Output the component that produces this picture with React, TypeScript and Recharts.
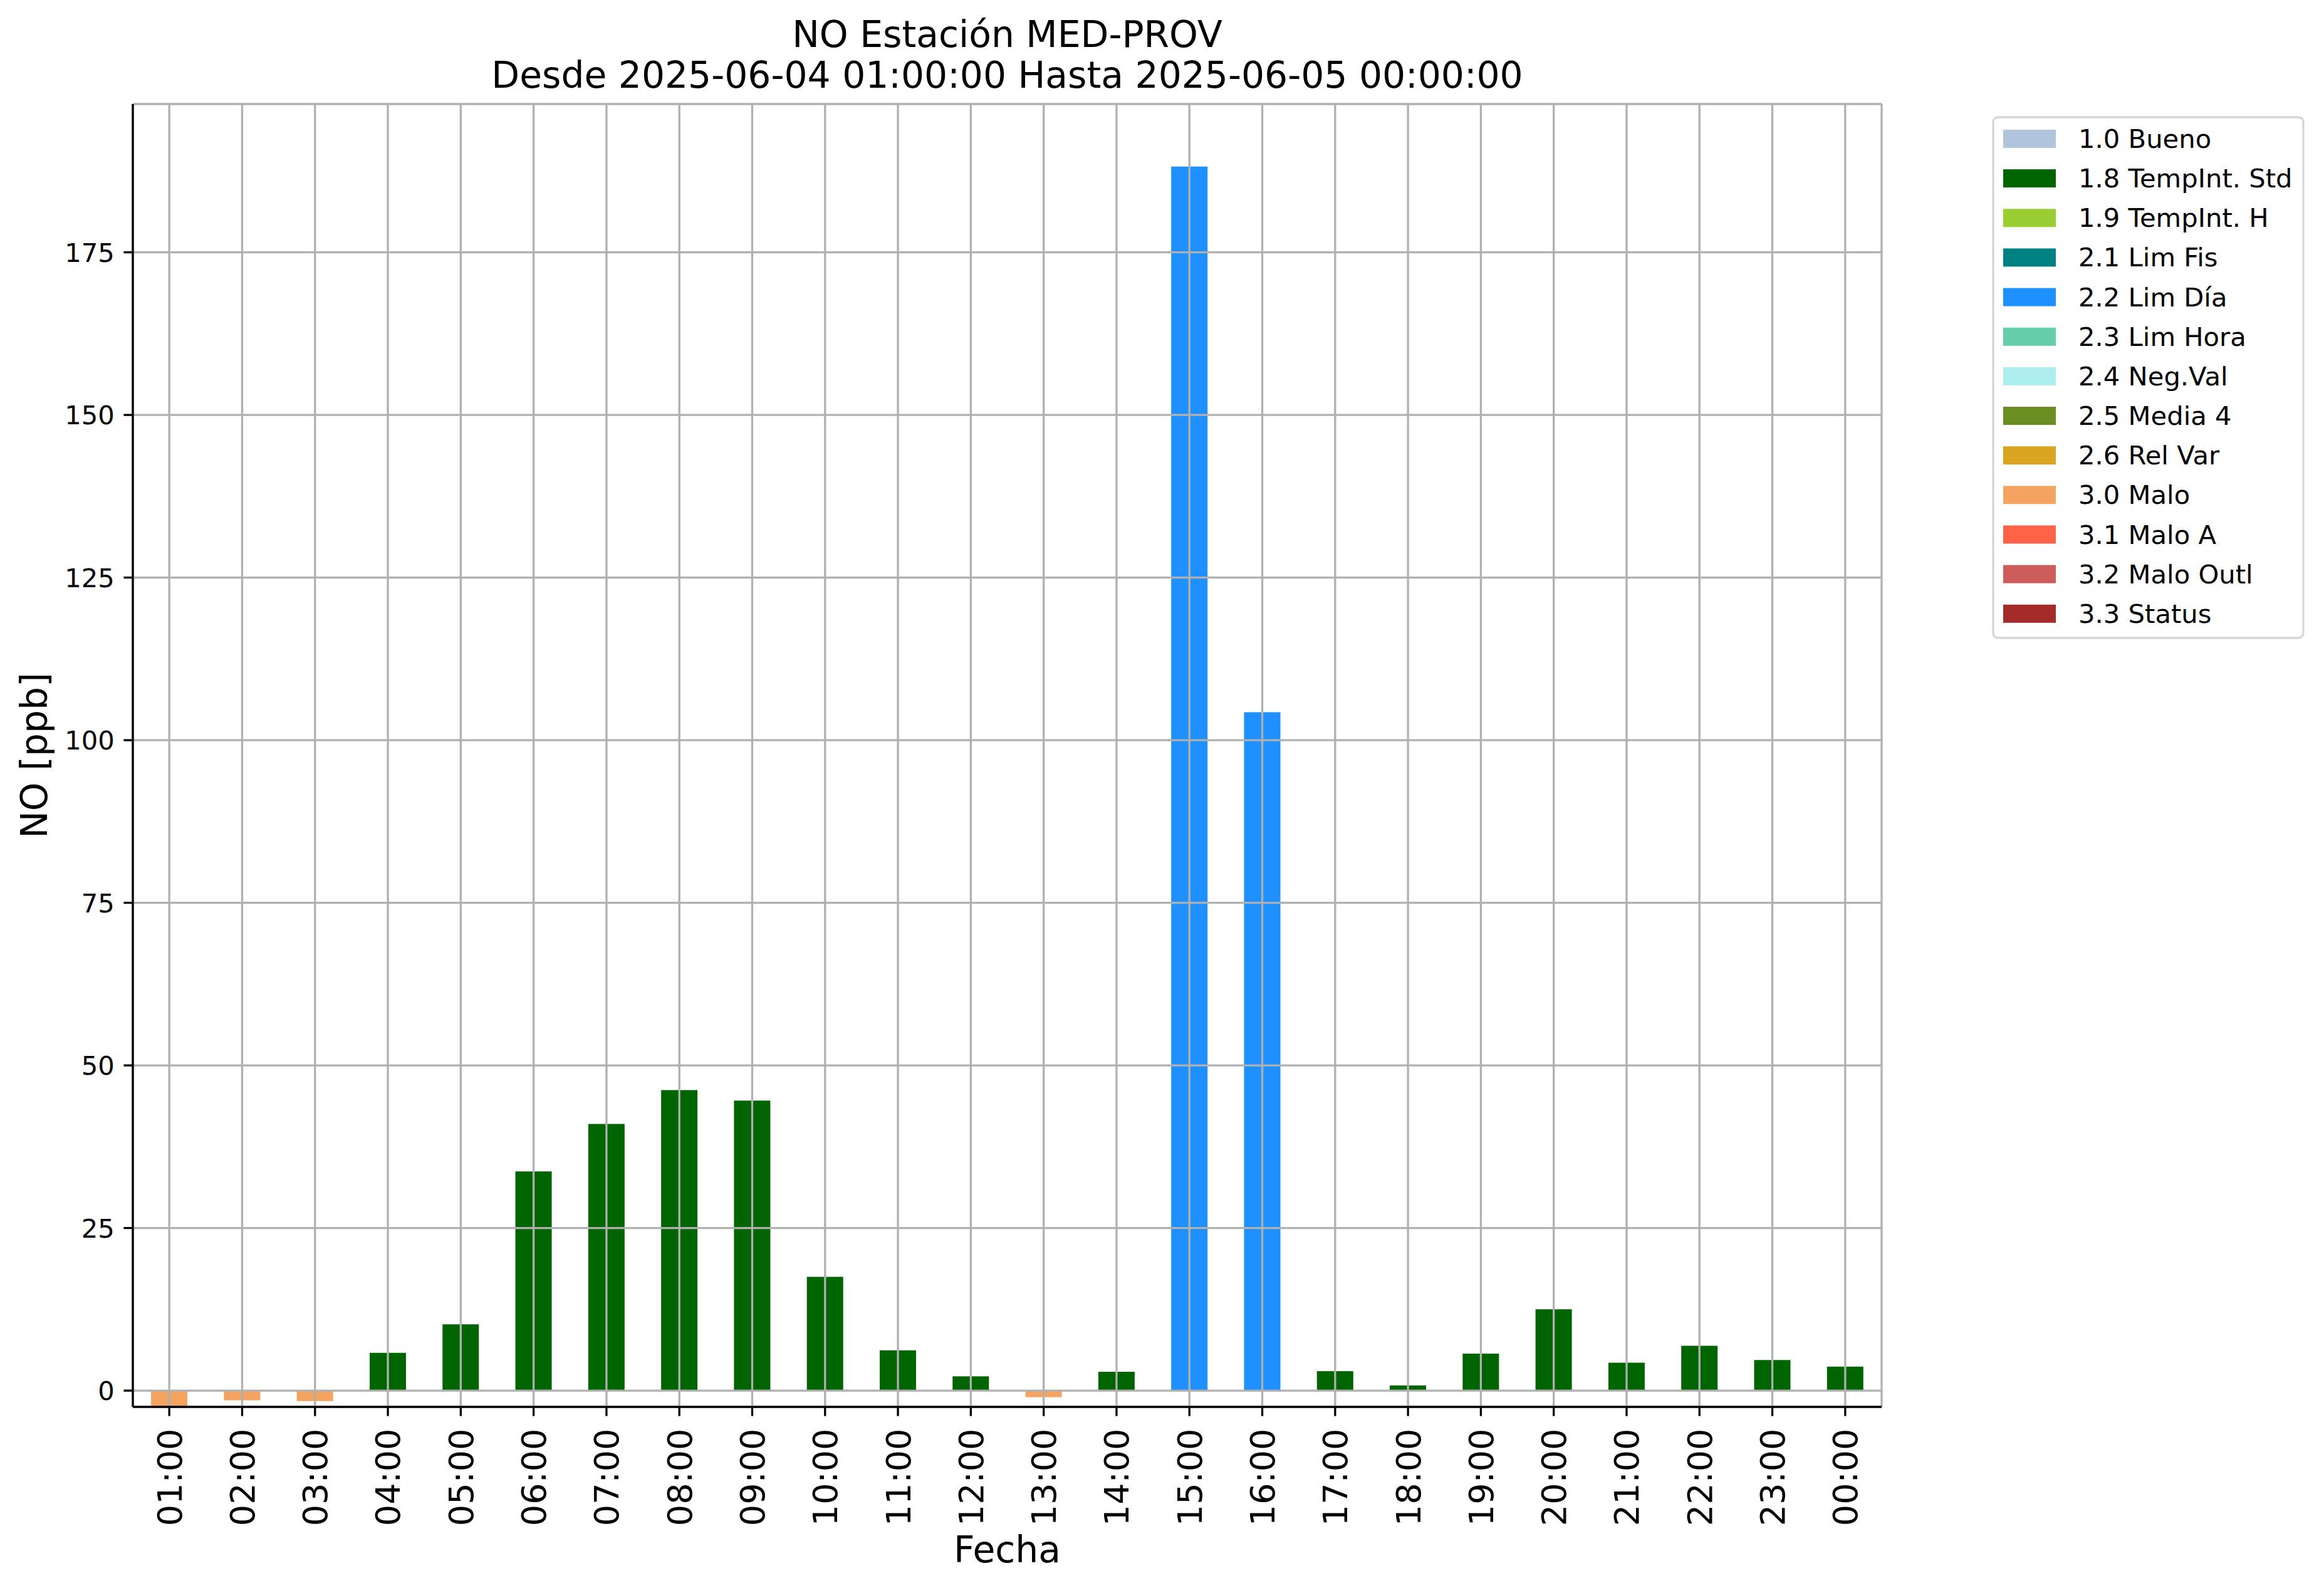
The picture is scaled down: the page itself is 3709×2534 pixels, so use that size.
import { BarChart, Bar, Cell, XAxis, YAxis, CartesianGrid, Customized } from "recharts";

/* ---------- data ---------- */

const hours = [
  "01:00", "02:00", "03:00", "04:00", "05:00", "06:00", "07:00", "08:00",
  "09:00", "10:00", "11:00", "12:00", "13:00", "14:00", "15:00", "16:00",
  "17:00", "18:00", "19:00", "20:00", "21:00", "22:00", "23:00", "00:00",
];

const noValues = [
  -2.5, -1.5, -1.6, 5.8, 10.2, 33.7, 41.0, 46.2,
  44.6, 17.5, 6.2, 2.2, -1.0, 2.9, 188.2, 104.3,
  3.0, 0.8, 5.7, 12.5, 4.3, 6.9, 4.7, 3.7,
];

const flagCodes = [
  "3.0", "3.0", "3.0", "1.8", "1.8", "1.8", "1.8", "1.8",
  "1.8", "1.8", "1.8", "1.8", "3.0", "1.8", "2.2", "2.2",
  "1.8", "1.8", "1.8", "1.8", "1.8", "1.8", "1.8", "1.8",
];

const legendCodes = ["1.0", "1.8", "1.9", "2.1", "2.2", "2.3", "2.4", "2.5", "2.6", "3.0", "3.1", "3.2", "3.3"];
const legendNames = [
  "Bueno", "TempInt. Std", "TempInt. H", "Lim Fis", "Lim Día", "Lim Hora",
  "Neg.Val", "Media 4", "Rel Var", "Malo", "Malo A", "Malo Outl", "Status",
];
const legendColors = [
  "#B0C4DE", "#006400", "#9ACD32", "#008080", "#1E90FF", "#66CDAA",
  "#AFEEEE", "#6B8E23", "#DAA520", "#F4A460", "#FF6347", "#CD5C5C", "#A52A2A",
];

const yTicks = [0, 25, 50, 75, 100, 125, 150, 175];
const yDomain = [-2.5, 197.8];

const data = hours.map((hour, i) => ({ hour, value: noValues[i], flag: flagCodes[i] }));
const colorFor = (code: string) => legendColors[legendCodes.indexOf(code)];

/* ---------- layout ---------- */

const W = 3709;
const H = 2534;
const PLOT_LEFT = 212;
const PLOT_TOP = 166;
const PLOT_RIGHT = 3003;
const PLOT_BOTTOM = 2245;
const FONT = "DejaVu Sans";
const SPINE = { stroke: "#000", strokeWidth: 3.3 };

function HourTick({ x, y, payload }: any) {
  return (
    <text
      x={0}
      y={0}
      transform={`translate(${x},${y}) rotate(-90)`}
      textAnchor="end"
      dy="0.36em"
      fontSize={54}
      fontFamily={FONT}
      fill="#000"
    >
      {payload.value}
    </text>
  );
}

function ValueTick({ x, y, payload }: any) {
  return (
    <text x={x} y={y} textAnchor="end" dy="0.36em" fontSize={41.7} fontFamily={FONT} fill="#000">
      {payload.value}
    </text>
  );
}

function ChartText() {
  const cx = (PLOT_LEFT + PLOT_RIGHT) / 2;
  const cy = (PLOT_TOP + PLOT_BOTTOM) / 2;
  return (
    <g fontFamily={FONT} fill="#000">
      <text x={cx} y={75} textAnchor="middle" fontSize={58.3}>NO Estación MED-PROV</text>
      <text x={cx} y={140} textAnchor="middle" fontSize={58.3}>
        Desde 2025-06-04 01:00:00 Hasta 2025-06-05 00:00:00
      </text>
      <text x={cx} y={2493} textAnchor="middle" fontSize={58.3}>Fecha</text>
      <text x={0} y={0} transform={`translate(75,${cy}) rotate(-90)`} textAnchor="middle" fontSize={58.3}>
        NO [ppb]
      </text>
    </g>
  );
}

function FlagLegend() {
  const left = 3181;
  const top = 187;
  const step = 63.15;
  return (
    <g fontFamily={FONT}>
      <rect x={left} y={top} width={495} height={831} rx={8} fill="#fff" stroke="#d6d6d6" strokeWidth={3.3} />
      {legendCodes.map((code, i) => (
        <g key={code}>
          <rect x={left + 16} y={top + 20 + i * step} width={84} height={29} fill={legendColors[i]} />
          <text x={left + 136} y={top + 49 + i * step} fontSize={41.7} fill="#000">
            {code} {legendNames[i]}
          </text>
        </g>
      ))}
    </g>
  );
}

export default function App() {
  return (
    <div style={{ width: W, height: H, background: "#fff" }}>
      <style>{"body{margin:0}"}</style>
      <BarChart
        width={W}
        height={H}
        data={data}
        margin={{ top: PLOT_TOP, right: W - PLOT_RIGHT, left: 0, bottom: 0 }}
        barCategoryGap="25%"
      >
        <XAxis
          dataKey="hour"
          height={H - PLOT_BOTTOM}
          interval={0}
          tickSize={14.6}
          tickMargin={20}
          tick={<HourTick />}
          axisLine={SPINE}
          tickLine={SPINE}
        />
        <XAxis xAxisId="top" orientation="top" dataKey="hour" height={0} tick={false} tickLine={false} axisLine={SPINE} />
        <YAxis
          type="number"
          width={PLOT_LEFT}
          domain={yDomain}
          ticks={yTicks}
          allowDataOverflow
          tickSize={14.6}
          tickMargin={14.6}
          tick={<ValueTick />}
          axisLine={SPINE}
          tickLine={SPINE}
        />
        <YAxis
          yAxisId="right"
          orientation="right"
          type="number"
          width={0}
          domain={yDomain}
          allowDataOverflow
          tick={false}
          tickLine={false}
          axisLine={SPINE}
        />
        <Bar dataKey="value" isAnimationActive={false}>
          {data.map((d) => (
            <Cell key={d.hour} fill={colorFor(d.flag)} />
          ))}
        </Bar>
        <CartesianGrid stroke="#b0b0b0" strokeWidth={3.3} zIndex={350} />
        <Customized component={<ChartText />} />
        <Customized component={<FlagLegend />} />
      </BarChart>
    </div>
  );
}
